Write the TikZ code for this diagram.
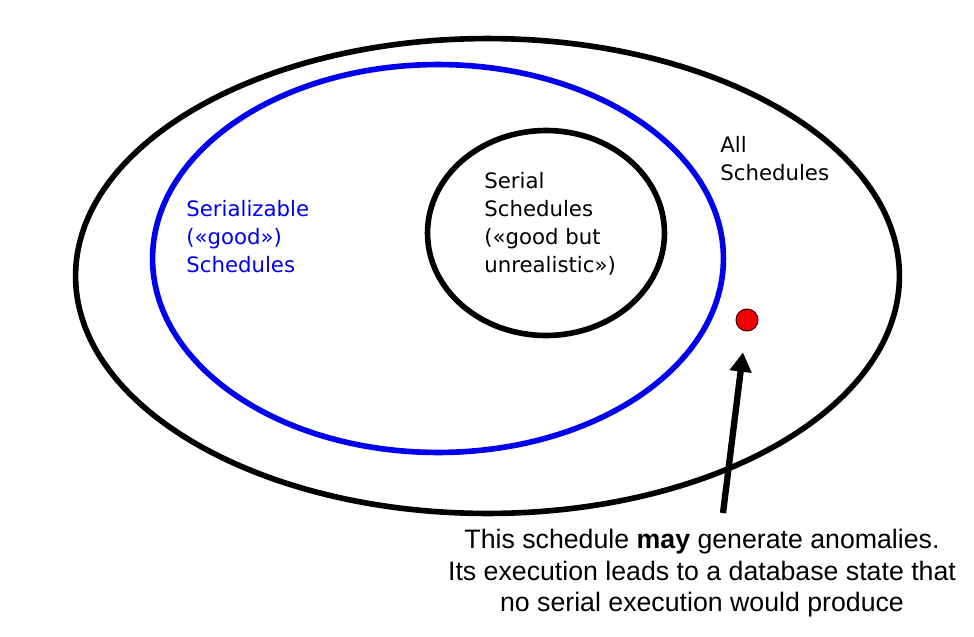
\documentclass[tikz,border=0pt]{standalone}
\usepackage{fontspec}
\setmainfont{Liberation Sans}
\newfontfamily\comicfont{DejaVu Sans}
\usetikzlibrary{shapes.geometric,arrows.meta}
\definecolor{setblue}{RGB}{0,0,240}
\definecolor{dotred}{RGB}{240,0,0}
\tikzset{
  setring/.style={ellipse, draw, line width=3.2pt, inner sep=0pt},
  setlabel/.style={font=\comicfont\fontsize{12.1pt}{15.9pt}\selectfont, align=left, anchor=north west, inner sep=0pt},
  notelabel/.style={font=\fontsize{15.2pt}{17.9pt}\selectfont, align=center, anchor=north, inner sep=0pt},
  bigarrow/.style={line width=3.6pt, -{Triangle[width=12pt,length=11pt]}}
}
\begin{document}
\begin{tikzpicture}[x=0.02cm,y=-0.02cm]
\useasboundingbox (0,0) rectangle (974,636);
\node[setring, minimum width=16.48cm, minimum height=9.5cm] (all) at (487.5,276) {};
\node[setring, draw=setblue, minimum width=11.42cm, minimum height=7.76cm] (ser) at (438,258.5) {};
\node[setring, minimum width=4.74cm, minimum height=4.1cm] (serial) at (546,233) {};
\node[setlabel] (lall) at (720,136) {All\\Schedules};
\node[setlabel, text=setblue] (lser) at (186,200) {Serializable\\(«good»)\\Schedules};
\node[setlabel] (lserial) at (484,172) {Serial\\Schedules\\(«good but\\unrealistic»)};
\node[circle, draw=black!70!red, fill=dotred, line width=0.6pt, minimum size=0.44cm, inner sep=0pt] (dot) at (747,320) {};
\node[notelabel] (note) at (702,529) {This schedule \textbf{may} generate anomalies.\\Its execution leads to a database state that\\no serial execution would produce};
\coordinate (tail) at (723,513);
\draw[bigarrow, shorten >=12pt] (tail) -- (dot);
\end{tikzpicture}
\end{document}
